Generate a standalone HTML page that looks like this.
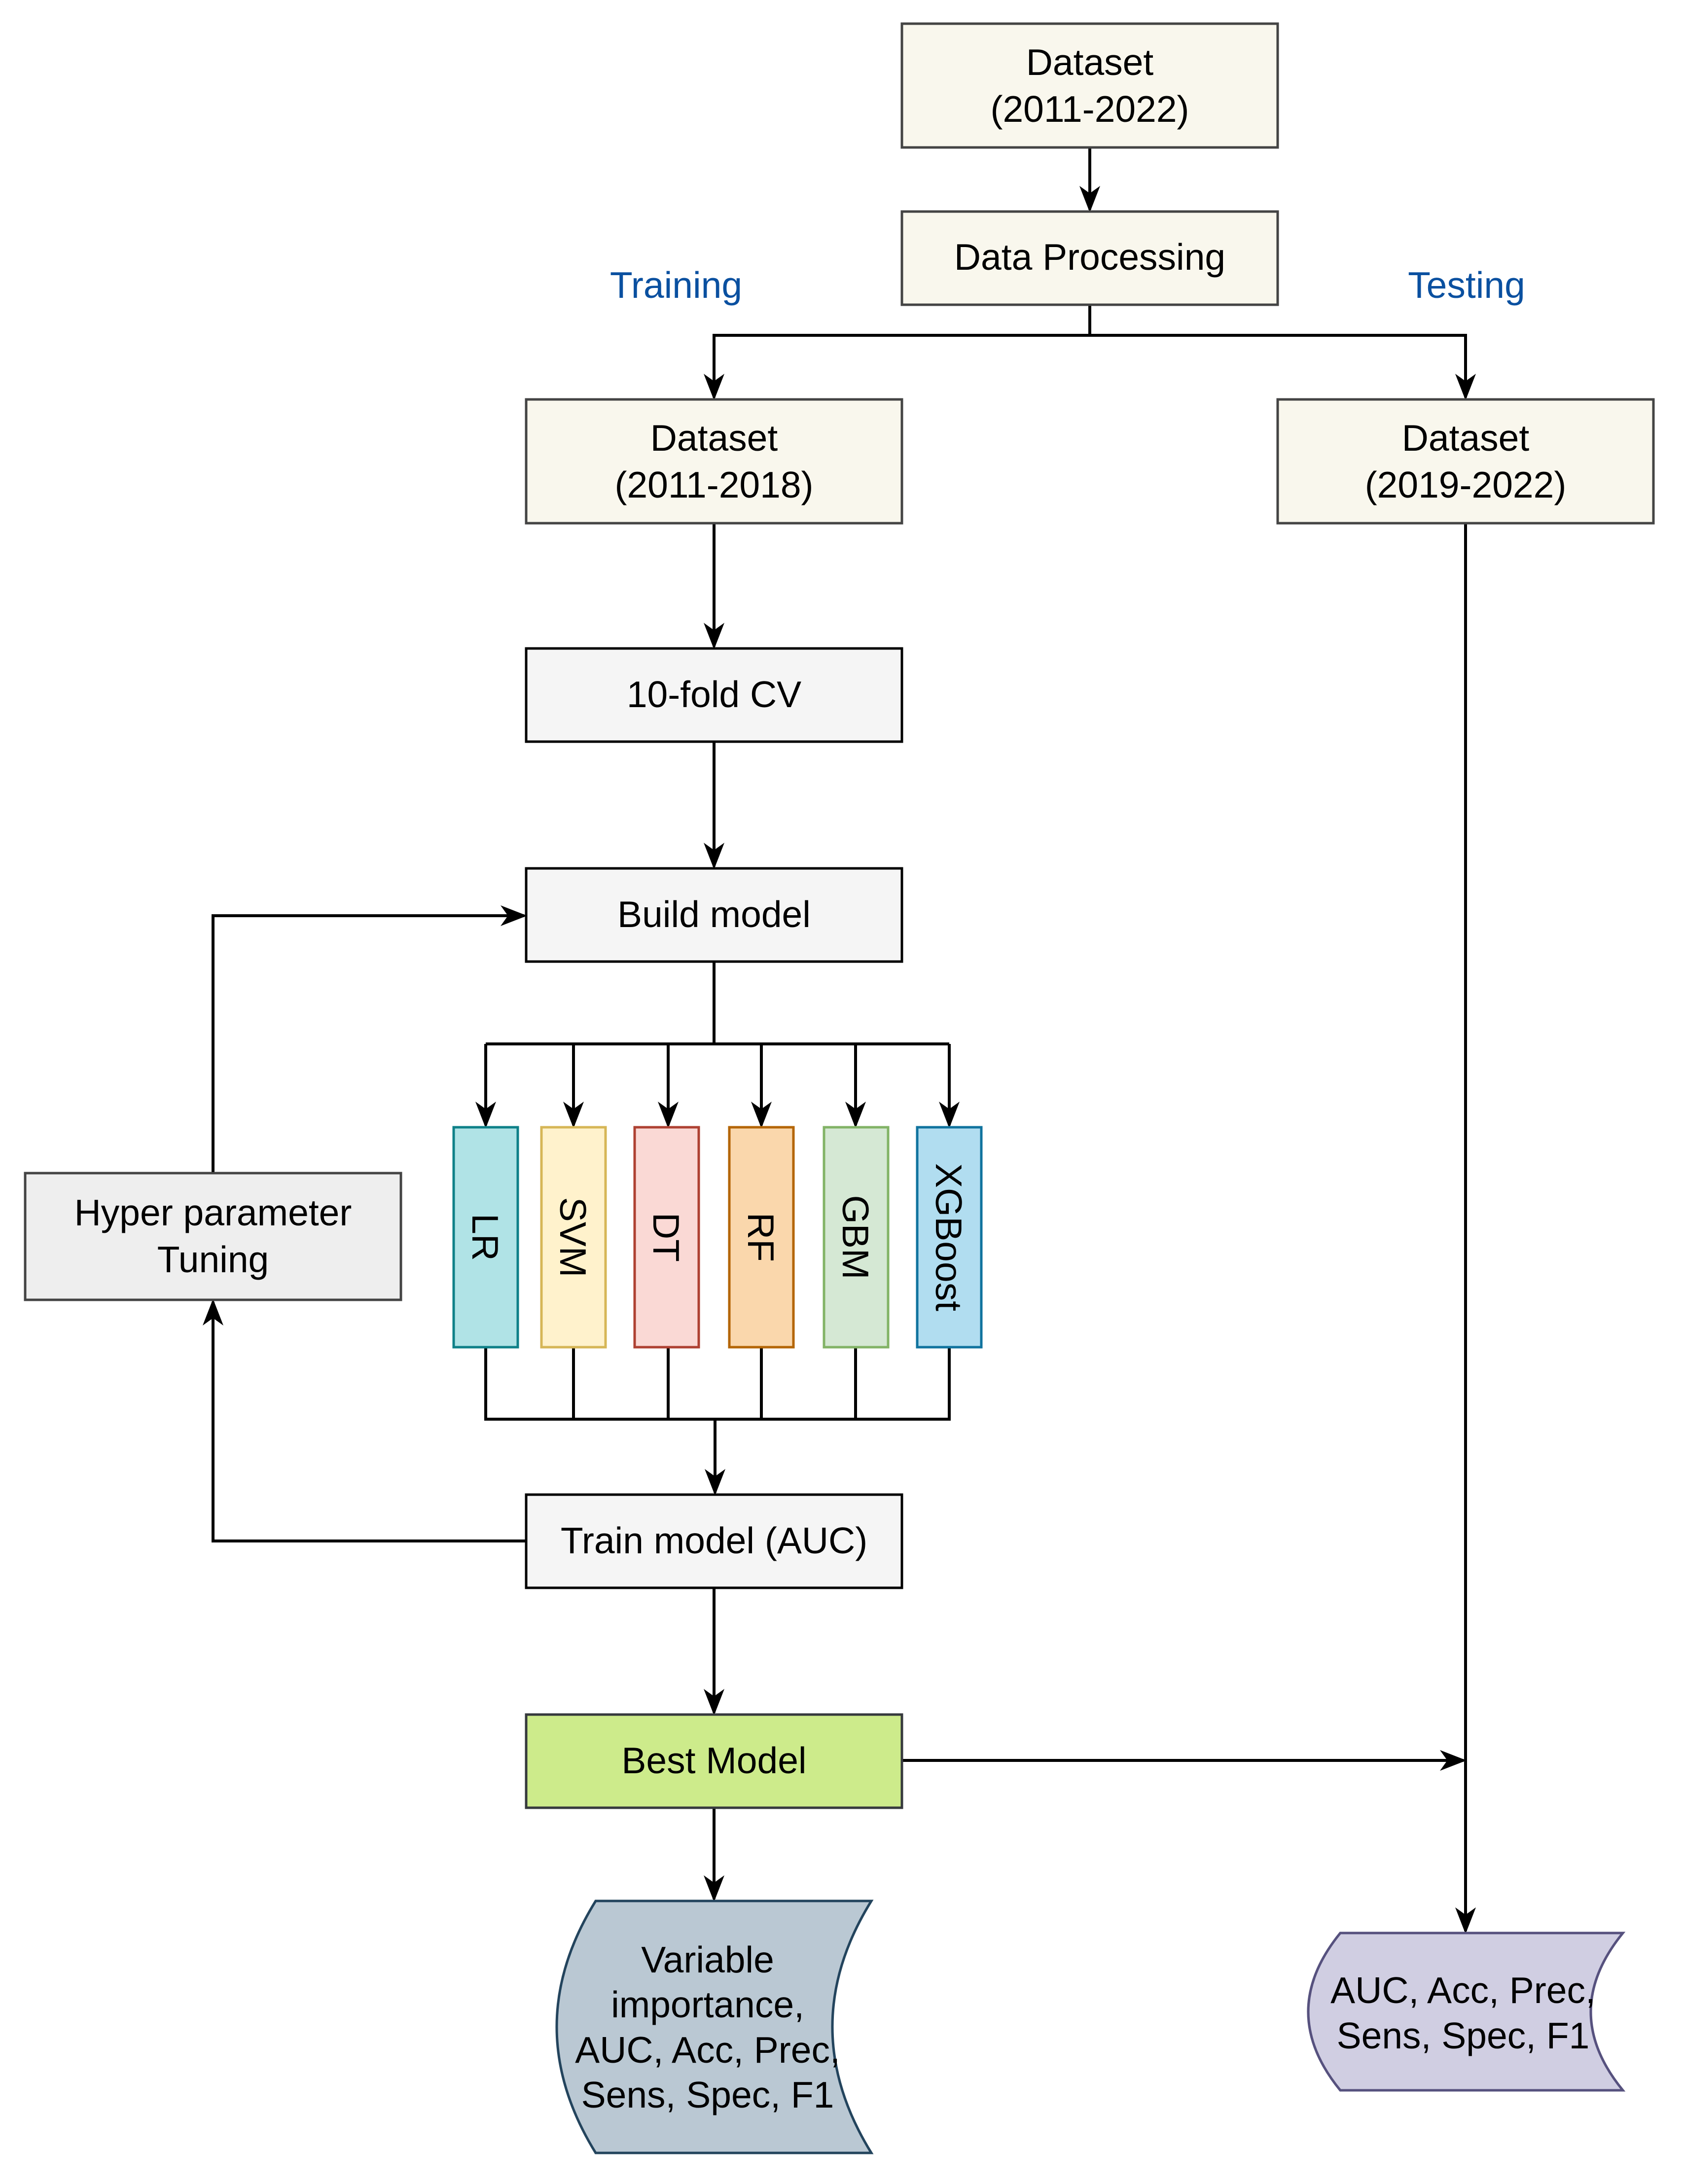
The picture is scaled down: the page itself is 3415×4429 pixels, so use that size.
<!DOCTYPE html>
<html><head><meta charset="utf-8"><style>html,body{margin:0;padding:0;background:#fff}</style></head>
<body>
<svg width="3415" height="4424" viewBox="0 0 3415 4424" xmlns="http://www.w3.org/2000/svg" font-family="Liberation Sans, sans-serif" font-size="75">
<defs>
<marker id="a" markerWidth="9" markerHeight="7" refX="8" refY="3.5" orient="auto" markerUnits="strokeWidth"><path d="M0,0 L9,3.5 L0,7 L2.5,3.5 Z" fill="#000"/></marker>
</defs>
<g stroke="#000" stroke-width="6" fill="none">
<path d="M2210,299 V425" marker-end="url(#a)"/>
<path d="M2210,618 V680 H1448 V806" marker-end="url(#a)"/>
<path d="M2210,680 H2972 V806" marker-end="url(#a)"/>
<path d="M1448,1061 V1311" marker-end="url(#a)"/>
<path d="M1448,1504 V1757" marker-end="url(#a)"/>
<path d="M1448,1950 V2117"/>
<path d="M985,2117 H1925"/>
<path d="M985,2117 V2282" marker-end="url(#a)"/>
<path d="M1163,2117 V2282" marker-end="url(#a)"/>
<path d="M1355,2117 V2282" marker-end="url(#a)"/>
<path d="M1544,2117 V2282" marker-end="url(#a)"/>
<path d="M1735,2117 V2282" marker-end="url(#a)"/>
<path d="M1925,2117 V2282" marker-end="url(#a)"/>
<path d="M985,2732 V2878 H1925 V2732 M1163,2732 V2878 M1355,2732 V2878 M1544,2732 V2878 M1735,2732 V2878"/>
<path d="M1450,2878 V3027" marker-end="url(#a)"/>
<path d="M1067,3125 H432 V2640" marker-end="url(#a)"/>
<path d="M432,2379 V1857 H1063" marker-end="url(#a)"/>
<path d="M1448,3220 V3473" marker-end="url(#a)"/>
<path d="M1829,3570 H2968" marker-end="url(#a)"/>
<path d="M1448,3666 V3851" marker-end="url(#a)"/>
<path d="M2972,1061 V3916" marker-end="url(#a)"/>
</g>
<g stroke-width="5">
<rect x="1829" y="48" width="762" height="251" fill="#f9f7ed" stroke="#444"/>
<rect x="1829" y="429" width="762" height="189" fill="#f9f7ed" stroke="#444"/>
<rect x="1067" y="810" width="762" height="251" fill="#f9f7ed" stroke="#444"/>
<rect x="2591" y="810" width="762" height="251" fill="#f9f7ed" stroke="#444"/>
<rect x="1067" y="1315" width="762" height="189" fill="#f5f5f5" stroke="#000"/>
<rect x="1067" y="1761" width="762" height="189" fill="#f5f5f5" stroke="#000"/>
<rect x="51" y="2379" width="762" height="257" fill="#eeeeee" stroke="#444"/>
<rect x="920" y="2286" width="130" height="446" fill="#b0e3e6" stroke="#0e8088"/>
<rect x="1098" y="2286" width="130" height="446" fill="#fff2cc" stroke="#d6b656"/>
<rect x="1287" y="2286" width="130" height="446" fill="#fad9d5" stroke="#ae4132"/>
<rect x="1479" y="2286" width="130" height="446" fill="#fad7ac" stroke="#b46504"/>
<rect x="1671" y="2286" width="130" height="446" fill="#d5e8d4" stroke="#82b366"/>
<rect x="1860" y="2286" width="130" height="446" fill="#b1ddf0" stroke="#10739e"/>
<rect x="1067" y="3031" width="762" height="189" fill="#f5f5f5" stroke="#000"/>
<rect x="1067" y="3477" width="762" height="189" fill="#cdeb8b" stroke="#36393d"/>
<path d="M1208,3855 L1767,3855 Q1609,4110 1767,4366 L1208,4366 Q1050,4110 1208,3855 Z" fill="#bac8d3" stroke="#23445d"/>
<path d="M2718,3920 L3291,3920 Q3161,4080 3291,4239 L2718,4239 Q2588,4080 2718,3920 Z" fill="#d0cee2" stroke="#56517e"/>
</g>
<g text-anchor="middle" fill="#000">
<text x="2210" y="152">Dataset</text><text x="2210" y="247">(2011-2022)</text>
<text x="2210" y="547">Data Processing</text>
<text x="1448" y="914">Dataset</text><text x="1448" y="1009">(2011-2018)</text>
<text x="2972" y="914">Dataset</text><text x="2972" y="1009">(2019-2022)</text>
<text x="1448" y="1434">10-fold CV</text>
<text x="1448" y="1880">Build model</text>
<text x="432" y="2485">Hyper parameter</text><text x="432" y="2580">Tuning</text>
<text x="1448" y="3150">Train model (AUC)</text>
<text x="1448" y="3596">Best Model</text>
<text x="1435" y="4000">Variable</text><text x="1435" y="4091">importance,</text><text x="1435" y="4183">AUC, Acc, Prec,</text><text x="1435" y="4274">Sens, Spec, F1</text>
<text x="2967" y="4062">AUC, Acc, Prec,</text><text x="2967" y="4154">Sens, Spec, F1</text>
<text x="985" y="2509" transform="rotate(90 985 2509)" dy="27">LR</text>
<text x="1163" y="2509" transform="rotate(90 1163 2509)" dy="27">SVM</text>
<text x="1352" y="2509" transform="rotate(90 1352 2509)" dy="27">DT</text>
<text x="1544" y="2509" transform="rotate(90 1544 2509)" dy="27">RF</text>
<text x="1736" y="2509" transform="rotate(90 1736 2509)" dy="27">GBM</text>
<text x="1925" y="2509" transform="rotate(90 1925 2509)" dy="27">XGBoost</text>
</g>
<g text-anchor="middle" fill="#0a50a0">
<text x="1371" y="604">Training</text>
<text x="2974" y="604">Testing</text>
</g>
</svg>
</body></html>
